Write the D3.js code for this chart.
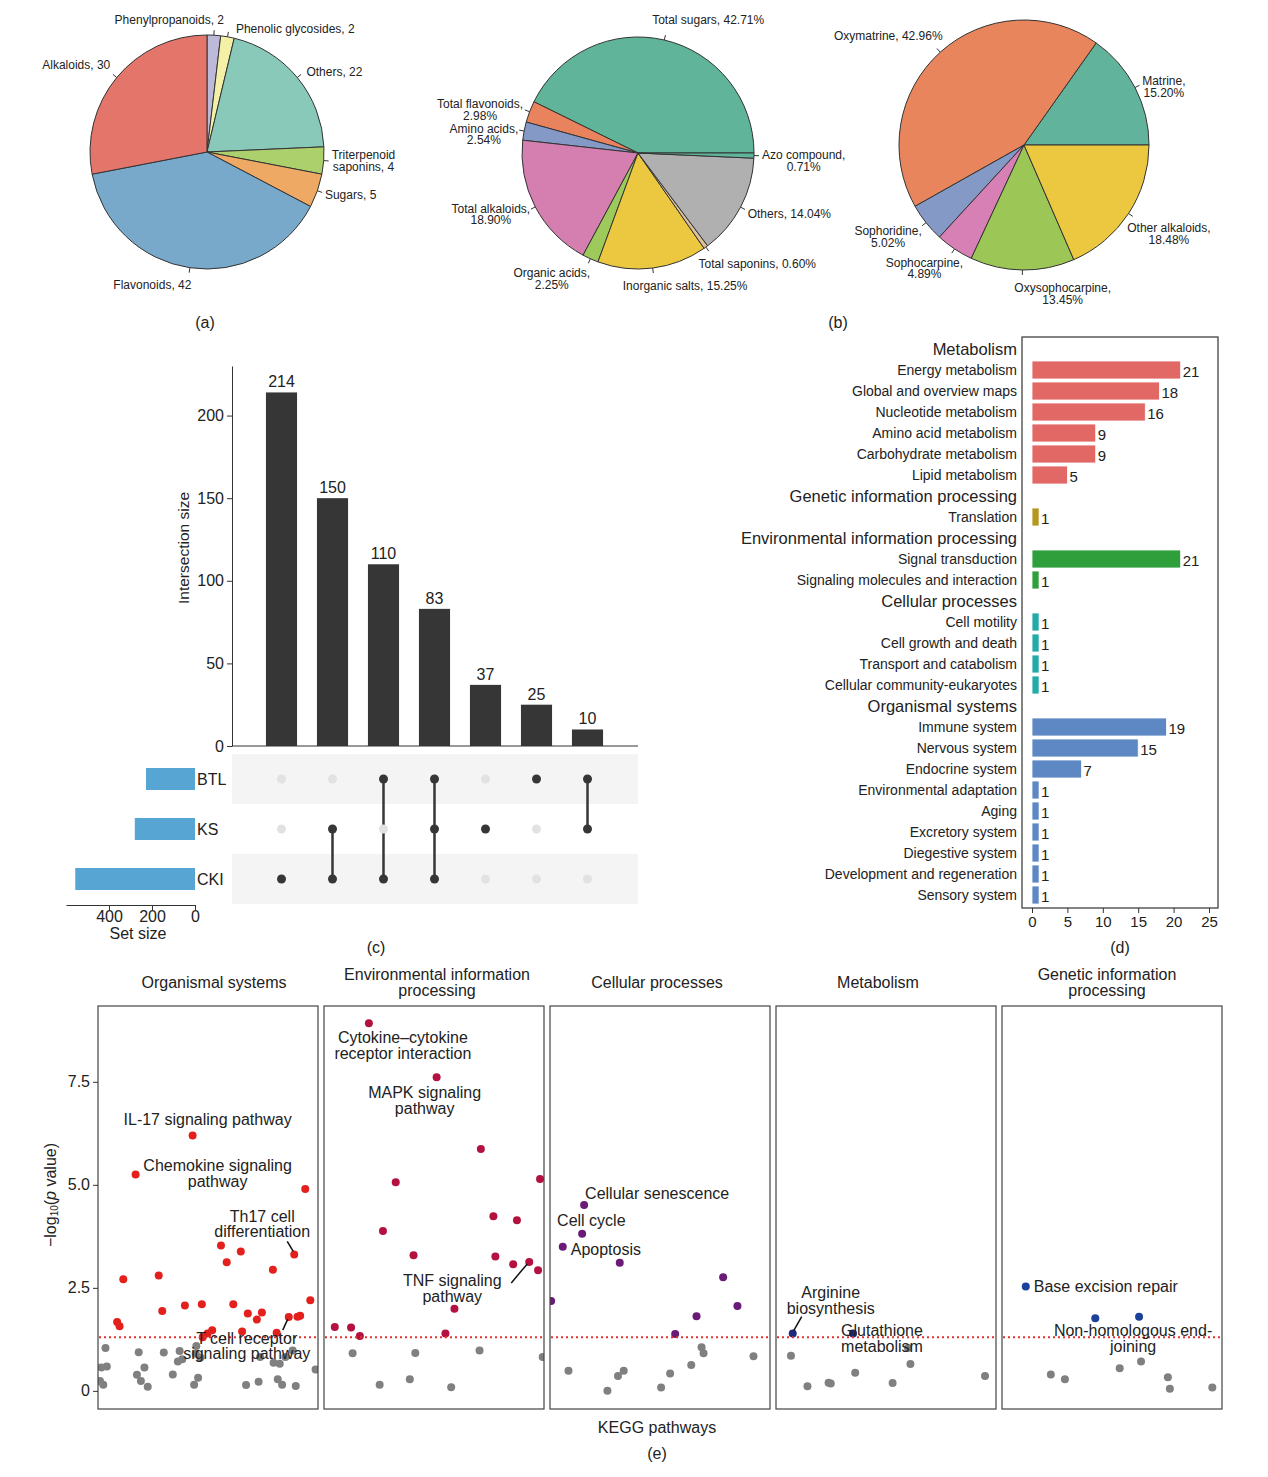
<!DOCTYPE html>
<html>
<head>
<meta charset="utf-8">
<script src="https://cdn.jsdelivr.net/npm/d3@7"></script>
<style>
  body { margin: 0; background: #fff; }
  svg { font-family: Arial, "Liberation Sans", sans-serif; }
</style>
</head>
<body>
<svg id="fig" width="1268" height="1477"></svg>
<script>
// ---- (a) compound classes
var classNames = ["Phenylpropanoids", "Phenolic glycosides", "Others", "Triterpenoid\nsaponins", "Sugars", "Flavonoids", "Alkaloids"];
var classCounts = [2, 2, 22, 4, 5, 42, 30];

// ---- (b) composition, left pie (%)
var compNames = ["Total sugars", "Total flavonoids", "Amino acids", "Total alkaloids", "Organic acids", "Inorganic salts", "Total saponins", "Others", "Azo compound"];
var compValues = [42.71, 2.98, 2.54, 18.90, 2.25, 15.25, 0.60, 14.04, 0.71];

// ---- (b) alkaloids, right pie (%)
var alkNames = ["Matrine", "Oxymatrine", "Sophoridine", "Sophocarpine", "Oxysophocarpine", "Other alkaloids"];
var alkValues = [15.20, 42.96, 5.02, 4.89, 13.45, 18.48];

// ---- (c) upset
var setNames = ["BTL", "KS", "CKI"];
var setSizes = [228, 280, 557];
var interSizes = [214, 150, 110, 83, 37, 25, 10];
var interMembers = [["CKI"], ["KS", "CKI"], ["BTL", "CKI"], ["BTL", "KS", "CKI"], ["KS"], ["BTL"], ["BTL", "KS"]];

// ---- (d) KEGG classes
var keggGroups = ["Metabolism", "Genetic information processing", "Environmental information processing", "Cellular processes", "Organismal systems"];
var keggPathways = ["Energy metabolism", "Global and overview maps", "Nucleotide metabolism", "Amino acid metabolism", "Carbohydrate metabolism", "Lipid metabolism",
  "Translation", "Signal transduction", "Signaling molecules and interaction",
  "Cell motility", "Cell growth and death", "Transport and catabolism", "Cellular community-eukaryotes",
  "Immune system", "Nervous system", "Endocrine system", "Environmental adaptation", "Aging", "Excretory system", "Diegestive system", "Development and regeneration", "Sensory system"];
var keggCounts = [21, 18, 16, 9, 9, 5, 1, 21, 1, 1, 1, 1, 1, 19, 15, 7, 1, 1, 1, 1, 1, 1];
var keggGroupIdx = [0, 0, 0, 0, 0, 0, 1, 2, 2, 3, 3, 3, 3, 4, 4, 4, 4, 4, 4, 4, 4, 4];

// ---- (e) enrichment, [order along pathway axis (0-100), -log10 p]
var facetNames = ["Organismal systems", "Environmental information\nprocessing", "Cellular processes", "Metabolism", "Genetic information\nprocessing"];
var orgSig = [[43, 6.20], [17.1, 5.25], [94.2, 4.90], [55.9, 3.53], [64.9, 3.38], [89.2, 3.31], [58.5, 3.12], [79.5, 2.94], [27.6, 2.80], [11.5, 2.71],
  [96.5, 2.20], [39.5, 2.07], [47.2, 2.10], [61.5, 2.10], [29.2, 1.94], [68.1, 1.88], [74.5, 1.90], [72.2, 1.73], [86.7, 1.79], [90.7, 1.80],
  [91.9, 1.82], [8.7, 1.67], [9.8, 1.57], [51.9, 1.47], [49.8, 1.39], [47.6, 1.30], [65.5, 1.44], [81.2, 1.41]];
var orgNs = [[3.4, 1.04], [1.5, 0.57], [4.0, 0.59], [0.9, 0.24], [2.4, 0.15], [18.5, 0.94], [21.1, 0.57], [17.7, 0.39], [19.5, 0.24], [22.6, 0.10],
  [29.9, 0.93], [34.0, 0.40], [36.3, 0.71], [37.1, 0.97], [38.3, 0.77], [44.7, 1.09], [44.4, 0.90], [46.6, 0.81], [45.5, 0.32], [43.7, 0.15],
  [73.7, 0.82], [73.0, 0.22], [67.3, 0.14], [79.8, 0.68], [82.6, 0.66], [85.2, 0.82], [81.7, 0.28], [83.7, 0.15], [88.5, 0.98], [89.9, 0.12], [98.9, 0.52]];
var envSig = [[20.4, 8.92], [51.2, 7.61], [71.3, 5.87], [32.6, 5.06], [98.2, 5.14], [77.0, 4.24], [87.7, 4.14], [26.8, 3.88], [40.7, 3.29], [77.9, 3.26],
  [86.0, 3.07], [93.3, 3.13], [97.3, 2.93], [59.3, 1.99], [4.9, 1.55], [12.3, 1.54], [16.3, 1.33], [55.2, 1.39]];
var envNs = [[13.0, 0.91], [41.5, 0.92], [70.7, 0.98], [99.4, 0.82], [25.3, 0.15], [39.0, 0.28], [57.8, 0.09]];
var cellSig = [[15.5, 4.51], [14.6, 3.81], [5.8, 3.50], [31.7, 3.11], [78.7, 2.76], [85.2, 2.06], [66.6, 1.81], [56.9, 1.38], [0.5, 2.18]];
var cellNs = [[8.4, 0.49], [26.1, 0.0], [30.9, 0.36], [33.5, 0.49], [50.5, 0.08], [54.6, 0.42], [64.2, 0.63], [68.9, 1.06], [69.8, 0.91], [92.5, 0.84]];
var metSig = [[7.6, 1.39], [35.0, 1.39]];
var metNs = [[6.8, 0.85], [14.3, 0.11], [23.9, 0.20], [24.9, 0.18], [36.0, 0.44], [53.0, 0.19], [61.1, 0.65], [60.0, 1.04], [95.0, 0.36]];
var genSig = [[10.8, 2.53], [42.4, 1.76], [62.3, 1.80]];
var genNs = [[22.2, 0.40], [28.6, 0.28], [53.5, 0.55], [63.2, 0.71], [75.4, 0.33], [76.3, 0.05], [95.6, 0.08]];
var pThreshold = 1.3;

var svg = d3.select("#fig");
var ink = "#222";

// ---------- pies
var set3 = ["#bdb9d8", "#f4f1a6", "#88c9ba", "#abd06c", "#eeaa64", "#79a9ca", "#e4756b"];
var set2 = ["#5fb49a", "#e8835e", "#8499c6", "#d57fb1", "#9dca5a", "#ebc83f", "#dcc09a", "#b0b0b0", "#5fb49a"];
var set2b = ["#62b39b", "#e8855d", "#8499c6", "#d680b6", "#9cc656", "#ebc83f"];

// [anchor override, dx, dy, two lines]
var layoutA = [["end", 10, 0], ["start", 7, 7], [null, 3, 0], [null, 0, 0], [null, 0, 2], ["end", 3, 2], [null, 0, -7]];
var layoutB = [["start", -14, -5, false], [null, 1, 1, true], [null, 2, 5, true], [null, 2, 4, true], [null, 3, 0, true],
  ["start", -31, 3, false], [null, -12, 3, false], [null, 0, 3, false], [null, 0, 5, true]];
var layoutC = [[null, 0, 3, true], [null, 8, -3, false], [null, 2, 9, true], [null, 13, 0, true], ["start", -8, 3, true], [null, -8, 16, true]];

function fmtCount(name, v) { return (name + ", " + v).split("\n"); }
function fmtPct(name, v, wrap) {
  return wrap ? [name + ",", v.toFixed(2) + "%"] : [name + ", " + v.toFixed(2) + "%"];
}

function pieChart(cx, cy, r, names, values, colors, a0, a1, layout, fmt) {
  var g = svg.append("g");
  var arcs = d3.pie().sort(null).startAngle(a0).endAngle(a1)(values);
  var arc = d3.arc().innerRadius(0).outerRadius(r);
  g.selectAll("path").data(arcs).enter().append("path")
    .attr("transform", "translate(" + cx + "," + cy + ")")
    .attr("d", arc)
    .attr("fill", function (d, i) { return colors[i]; })
    .attr("stroke", "#333").attr("stroke-width", 1);
  arcs.forEach(function (d, i) {
    var a = (d.startAngle + d.endAngle) / 2, ux = Math.sin(a), uy = -Math.cos(a);
    g.append("line")
      .attr("x1", cx + ux * r).attr("y1", cy + uy * r)
      .attr("x2", cx + ux * (r + 5)).attr("y2", cy + uy * (r + 5))
      .attr("stroke", "#333").attr("stroke-width", 1);
    var lay = layout[i];
    var px = cx + ux * (r + 8) + lay[1], py = cy + uy * (r + 8) + lay[2];
    var t = g.append("text").attr("font-size", 12).attr("fill", ink).attr("text-anchor", "middle");
    fmt(names[i], values[i], lay[3]).forEach(function (s, k) {
      t.append("tspan").attr("x", 0).attr("dy", k ? "0.98em" : 0).text(s);
    });
    var bb = t.node().getBBox();
    var anchor = lay[0] || (ux > 0.3 ? "start" : ux < -0.3 ? "end" : "middle");
    var ox = anchor === "start" ? px - bb.x : anchor === "end" ? px - bb.x - bb.width : px - bb.x - bb.width / 2;
    var oy = uy < -0.7 ? py - bb.y - bb.height : uy > 0.7 ? py - bb.y : py - bb.y - bb.height / 2;
    t.attr("transform", "translate(" + ox + "," + oy + ")");
  });
}

pieChart(207, 152, 117, classNames, classCounts, set3, 0, 2 * Math.PI, layoutA, fmtCount);
pieChart(638, 153, 116, compNames, compValues, set2, Math.PI / 2, Math.PI / 2 - 2 * Math.PI, layoutB, fmtPct);
pieChart(1024, 145, 125, alkNames, alkValues, set2b, Math.PI / 2, Math.PI / 2 - 2 * Math.PI, layoutC, fmtPct);

function caption(x, y, s) {
  svg.append("text").attr("x", x).attr("y", y).attr("text-anchor", "middle")
    .attr("dominant-baseline", "central").attr("font-size", 16).attr("fill", ink).text(s);
}
caption(205, 322, "(a)");
caption(838, 322, "(b)");

// ---------- (c) upset
var upX = d3.scaleBand().domain(d3.range(interSizes.length)).range([256, 613]).paddingInner(0.39).paddingOuter(0.195);
var upY = d3.scaleLinear().domain([0, 230]).range([746, 366]);
var upRow = d3.scaleBand().domain(setNames).range([754, 904]);
var setX = d3.scaleLinear().domain([0, 600]).range([195, 66]);

var gc = svg.append("g");
setNames.forEach(function (s, i) {
  if (i % 2 === 0) {
    gc.append("rect").attr("x", 232).attr("y", upRow(s)).attr("width", 406).attr("height", upRow.bandwidth()).attr("fill", "#f4f4f4");
  }
});
gc.selectAll(".ibar").data(interSizes).enter().append("rect")
  .attr("x", function (d, i) { return upX(i); })
  .attr("y", function (d) { return upY(d); })
  .attr("width", upX.bandwidth())
  .attr("height", function (d) { return upY(0) - upY(d); })
  .attr("fill", "#363636");
gc.selectAll(".ilab").data(interSizes).enter().append("text")
  .attr("x", function (d, i) { return upX(i) + upX.bandwidth() / 2; })
  .attr("y", function (d) { return upY(d) - 5; })
  .attr("text-anchor", "middle").attr("font-size", 16).attr("fill", ink)
  .text(function (d) { return d; });
var ay = gc.append("g").attr("transform", "translate(232,0)")
  .call(d3.axisLeft(upY).tickValues([0, 50, 100, 150, 200]).tickSize(5).tickSizeOuter(0));
ay.attr("font-size", 16).attr("font-family", null);
ay.selectAll("path,line").attr("stroke", "#333");
ay.selectAll("text").attr("fill", ink);
gc.append("line").attr("x1", 232).attr("x2", 638).attr("y1", upY(0)).attr("y2", upY(0)).attr("stroke", "#333");
gc.append("text").attr("transform", "translate(183,548) rotate(-90)").attr("text-anchor", "middle")
  .attr("dominant-baseline", "central").attr("font-size", 15.5).attr("fill", ink).text("Intersection size");

interMembers.forEach(function (m, i) {
  var cx = upX(i) + upX.bandwidth() / 2;
  var ys = m.map(function (s) { return upRow(s) + upRow.bandwidth() / 2; });
  if (ys.length > 1) {
    gc.append("line").attr("x1", cx).attr("x2", cx).attr("y1", d3.min(ys)).attr("y2", d3.max(ys))
      .attr("stroke", "#363636").attr("stroke-width", 2.5);
  }
  setNames.forEach(function (s) {
    var on = m.indexOf(s) >= 0;
    gc.append("circle").attr("cx", cx).attr("cy", upRow(s) + upRow.bandwidth() / 2).attr("r", 4.5)
      .attr("fill", on ? "#363636" : "#e2e2e2");
  });
});

gc.selectAll(".sbar").data(setSizes).enter().append("rect")
  .attr("x", function (d) { return setX(d); })
  .attr("y", function (d, i) { return upRow(setNames[i]) + upRow.bandwidth() / 2 - 11; })
  .attr("width", function (d) { return setX(0) - setX(d); })
  .attr("height", 22)
  .attr("fill", "#57a5d3");
gc.selectAll(".slab").data(setNames).enter().append("text")
  .attr("x", 197).attr("y", function (s) { return upRow(s) + upRow.bandwidth() / 2; })
  .attr("dominant-baseline", "central").attr("font-size", 16).attr("fill", ink)
  .text(function (s) { return s; });
var ax = gc.append("g").attr("transform", "translate(0,905)")
  .call(d3.axisBottom(setX).tickValues([0, 200, 400]).tickSize(5).tickSizeOuter(0));
ax.attr("font-size", 16).attr("font-family", null);
ax.selectAll("path,line").attr("stroke", "#333");
ax.selectAll("text").attr("fill", ink).attr("dy", "0.55em");
gc.append("text").attr("x", 138).attr("y", 933).attr("text-anchor", "middle").attr("dominant-baseline", "central")
  .attr("font-size", 16).attr("fill", ink).text("Set size");
caption(376, 947, "(c)");

// ---------- (d) KEGG classification
var groupColors = ["#e16864", "#b5961e", "#2f9f3c", "#23aba9", "#5d88c4"];
var rows = [];
keggGroups.forEach(function (g, gi) {
  rows.push({ key: "h" + gi, label: g, header: true });
  keggPathways.forEach(function (p, pi) {
    if (keggGroupIdx[pi] === gi) rows.push({ key: "p" + pi, label: p, value: keggCounts[pi], group: gi });
  });
});
var dY = d3.scaleBand().domain(rows.map(function (r) { return r.key; })).range([338.5, 905.5]);
var dX = d3.scaleLinear().domain([0, 25]).range([1032, 1209]);
var gd = svg.append("g");
gd.append("rect").attr("x", 1022).attr("y", 337).attr("width", 196).attr("height", 571)
  .attr("fill", "none").attr("stroke", "#333").attr("stroke-width", 1.2);
rows.forEach(function (r) {
  var yc = dY(r.key) + dY.bandwidth() / 2;
  gd.append("text").attr("x", 1017).attr("y", yc).attr("text-anchor", "end").attr("dominant-baseline", "central")
    .attr("font-size", r.header ? 16.5 : 14).attr("fill", ink).text(r.label);
  if (!r.header) {
    gd.append("rect").attr("x", dX(0)).attr("y", yc - 9).attr("width", dX(r.value) - dX(0)).attr("height", 18)
      .attr("fill", groupColors[r.group]).attr("stroke", "#fff").attr("stroke-width", 0.8);
    gd.append("text").attr("x", dX(r.value) + 2).attr("y", yc + 1).attr("dominant-baseline", "central")
      .attr("font-size", 15).attr("fill", ink).text(r.value);
  }
});
var dax = gd.append("g").attr("transform", "translate(0,908)")
  .call(d3.axisBottom(dX).tickValues([0, 5, 10, 15, 20, 25]).tickSize(5));
dax.select(".domain").remove();
dax.attr("font-size", 15).attr("font-family", null);
dax.selectAll("line").attr("stroke", "#333");
dax.selectAll("text").attr("fill", ink);
caption(1120, 947, "(d)");

// ---------- (e) enrichment facets
var facetSig = [orgSig, envSig, cellSig, metSig, genSig];
var facetNs = [orgNs, envNs, cellNs, metNs, genNs];
var facetColors = ["#e3201c", "#b31240", "#6a1b78", "#1f2a7a", "#1c419b"];
var titleShift = [6, 3, -3, -8, -5];
var notes = [
  { f: 0, i: 0, lines: ["IL-17 signaling pathway"], dx: 15, dy: -16 },
  { f: 0, i: 1, lines: ["Chemokine signaling", "pathway"], dx: 82, dy: -9 },
  { f: 0, i: 5, lines: ["Th17 cell", "differentiation"], dx: -32, dy: -38, lead: [[-1, -3], [-7, -13]] },
  { f: 0, i: 18, lines: ["T cell receptor", "signaling pathway"], dx: -42, dy: 21, lead: [[-1, 2], [-6, 13]] },
  { f: 1, i: 0, lines: ["Cytokine\u2013cytokine", "receptor interaction"], dx: 34, dy: 14.5 },
  { f: 1, i: 1, lines: ["MAPK signaling", "pathway"], dx: -12, dy: 15.5 },
  { f: 1, i: 11, lines: ["TNF signaling", "pathway"], dx: -77, dy: 19, lead: [[-2, 2], [-18, 21]] },
  { f: 2, i: 0, lines: ["Cellular senescence"], dx: 1, dy: -12, anchor: "start" },
  { f: 2, i: 1, lines: ["Cell cycle"], dx: -25, dy: -13, anchor: "start" },
  { f: 2, i: 2, lines: ["Apoptosis"], dx: 8, dy: 3, anchor: "start" },
  { f: 3, i: 0, lines: ["Arginine", "biosynthesis"], dx: 38, dy: -41, lead: [[1, -3], [9, -17]] },
  { f: 3, i: 1, lines: ["Glutathione", "metabolism"], dx: 29, dy: -3 },
  { f: 4, i: 0, lines: ["Base excision repair"], dx: 8, dy: 0, anchor: "start" },
  { f: 4, i: 2, lines: ["Non-homologous end-", "joining"], dx: -6, dy: 14 }
];
var eY = d3.scaleLinear().domain([-0.44, 9.34]).range([1409, 1006]);
var fW = 220, fGap = 6, fLeft = 98;
var ge = svg.append("g");
var defs = svg.append("defs");
var fx = [];
facetNames.forEach(function (name, f) {
  var x0 = fLeft + f * (fW + fGap);
  var x = d3.scaleLinear().domain([0, 100]).range([x0, x0 + fW]);
  fx.push(x);
  defs.append("clipPath").attr("id", "clipf" + f).append("rect")
    .attr("x", x0).attr("y", eY.range()[1]).attr("width", fW).attr("height", eY.range()[0] - eY.range()[1]);
  var g = ge.append("g");
  var lines = name.split("\n");
  var t = g.append("text").attr("text-anchor", "middle").attr("font-size", 16).attr("fill", ink);
  lines.forEach(function (s, k) {
    t.append("tspan").attr("x", x0 + fW / 2 + titleShift[f]).attr("y", (lines.length > 1 ? 974 : 982) + k * 16)
      .attr("dominant-baseline", "central").text(s);
  });
  var pg = g.append("g").attr("clip-path", "url(#clipf" + f + ")");
  pg.selectAll(".ns").data(facetNs[f]).enter().append("circle")
    .attr("cx", function (d) { return x(d[0]); }).attr("cy", function (d) { return eY(d[1]); })
    .attr("r", 4).attr("fill", "#808080");
  pg.selectAll(".sig").data(facetSig[f]).enter().append("circle")
    .attr("cx", function (d) { return x(d[0]); }).attr("cy", function (d) { return eY(d[1]); })
    .attr("r", 4).attr("fill", facetColors[f]);
  g.append("line").attr("x1", x0 + 1).attr("x2", x0 + fW - 1).attr("y1", eY(pThreshold)).attr("y2", eY(pThreshold))
    .attr("stroke", "#e0332f").attr("stroke-width", 2).attr("stroke-dasharray", "2,3");
  g.append("rect").attr("x", x0).attr("y", eY.range()[1]).attr("width", fW).attr("height", eY.range()[0] - eY.range()[1])
    .attr("fill", "none").attr("stroke", "#444").attr("stroke-width", 1.2);
});
notes.forEach(function (n) {
  var p = facetSig[n.f][n.i];
  var px = fx[n.f](p[0]), py = eY(p[1]);
  var t = ge.append("text").attr("font-size", 16).attr("fill", ink).attr("text-anchor", n.anchor || "middle");
  n.lines.forEach(function (s, k) {
    t.append("tspan").attr("x", px + n.dx).attr("y", py + n.dy + k * 15.5).attr("dominant-baseline", "central").text(s);
  });
  if (n.lead) {
    ge.append("line").attr("x1", px + n.lead[0][0]).attr("y1", py + n.lead[0][1])
      .attr("x2", px + n.lead[1][0]).attr("y2", py + n.lead[1][1]).attr("stroke", "#111").attr("stroke-width", 1.5);
  }
});
var eax = ge.append("g").attr("transform", "translate(" + fLeft + ",0)")
  .call(d3.axisLeft(eY).tickValues([0, 2.5, 5, 7.5]).tickSize(5)
    .tickFormat(function (d) { return d === 0 ? "0" : d.toFixed(1); }));
eax.select(".domain").remove();
eax.attr("font-size", 16).attr("font-family", null);
eax.selectAll("line").attr("stroke", "#333");
eax.selectAll("text").attr("fill", ink);
var yl = ge.append("text").attr("transform", "translate(50,1195) rotate(-90)").attr("text-anchor", "middle")
  .attr("dominant-baseline", "central").attr("font-size", 16).attr("fill", ink);
yl.append("tspan").text("\u2212log");
yl.append("tspan").attr("font-size", 10).attr("dy", 4).text("10");
yl.append("tspan").attr("dy", -4).text("(");
yl.append("tspan").attr("font-style", "italic").text("p");
yl.append("tspan").text(" value)");
caption(657, 1427, "KEGG pathways");
caption(657, 1453, "(e)");
</script>
</body>
</html>
